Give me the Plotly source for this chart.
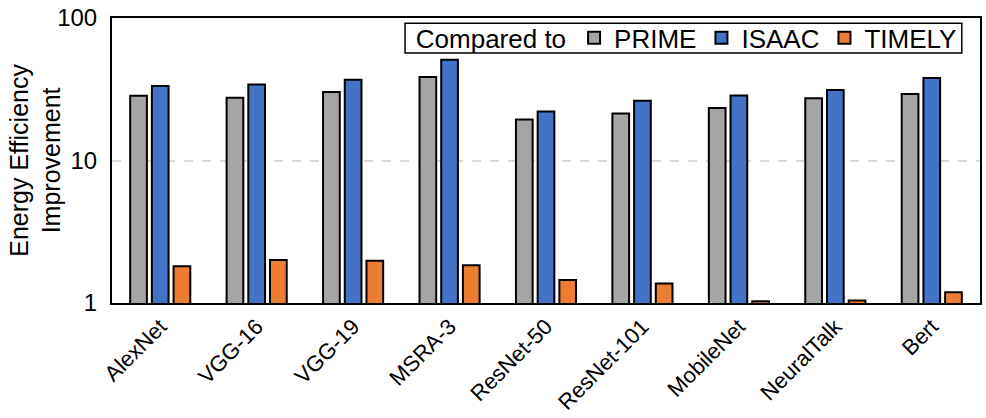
import plotly.graph_objects as go

models = ["AlexNet", "VGG-16", "VGG-19", "MSRA-3", "ResNet-50",
          "ResNet-101", "MobileNet", "NeuralTalk", "Bert"]
prime = [28.5, 27.6, 30.3, 38.5, 19.4, 21.4, 23.4, 27.3, 29.3]
isaac = [33.3, 34.2, 36.9, 51.0, 22.1, 26.3, 28.6, 31.3, 37.9]
timely = [1.81, 2.00, 1.98, 1.84, 1.45, 1.37, 1.03, 1.04, 1.19]

series = [
    ("PRIME", prime, "#A5A5A5"),
    ("ISAAC", isaac, "#4472C4"),
    ("TIMELY", timely, "#ED7D31"),
]

font_family = "Arial, Liberation Sans, sans-serif"

fig = go.Figure()
for name, vals, color in series:
    fig.add_trace(go.Bar(
        x=models, y=vals, name=name,
        marker=dict(color=color, line=dict(color="black", width=2)),
    ))

# Slim white frame behind the legend entries (the native legend box is taller)
fig.add_shape(
    type="rect", xref="paper", yref="paper",
    x0=0.3376, x1=0.979, y0=0.877, y1=0.982,
    line=dict(color="black", width=1.5), fillcolor="white", layer="above",
)

# Y-axis title, tucked in close to the tick labels
fig.add_annotation(
    text="Energy Efficiency<br>Improvement",
    xref="paper", yref="paper", x=-0.051, y=0.5,
    xanchor="right", yanchor="middle", textangle=-90,
    showarrow=False, font=dict(size=25),
)

fig.update_layout(
    width=986, height=418,
    margin=dict(l=112, r=6, t=18, b=115),
    paper_bgcolor="white", plot_bgcolor="white",
    barmode="group", bargap=0.325, bargroupgap=0.23,
    font=dict(family=font_family, size=24, color="black"),
    showlegend=True,
    legend=dict(
        orientation="h",
        x=0.979, xanchor="right", y=0.93, yanchor="middle",
        borderwidth=0, bgcolor="rgba(0,0,0,0)",
        font=dict(size=26),
        title=dict(text="Compared to", font=dict(size=26)),
        itemwidth=30, tracegroupgap=0,
    ),
    xaxis=dict(
        showline=True, linecolor="black", linewidth=2, mirror=True,
        tickangle=-45, ticks="", ticklen=0, tickfont=dict(size=22), automargin=False,
    ),
    yaxis=dict(
        type="log", range=[0, 2],
        tickvals=[1, 10, 100], ticktext=["1", "10", "100"],
        showline=True, linecolor="black", linewidth=2, mirror=True,
        ticks="", ticklabelstandoff=8, tickfont=dict(size=24), automargin=False,
        showgrid=True, gridcolor="#D9D9D9", griddash="dash", gridwidth=1.5,
    ),
)

fig.write_html("out.html")
